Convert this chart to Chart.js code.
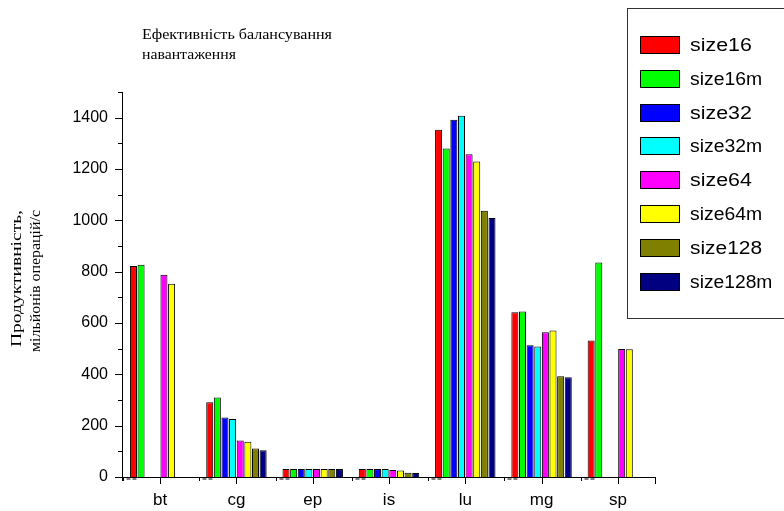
<!DOCTYPE html>
<html>
<head>
<meta charset="utf-8">
<script src="https://cdn.jsdelivr.net/npm/chart.js@4.4.0/dist/chart.umd.min.js"></script>
<style>
  html, body { margin:0; padding:0; background:#fff; }
</style>
</head>
<body>
<canvas id="chart" width="784" height="511"></canvas>
<script>
const categories = ["bt", "cg", "ep", "is", "lu", "mg", "sp"];
const seriesNames = ["size16", "size16m", "size32", "size32m", "size64", "size64m", "size128", "size128m"];
const seriesColors = ["#ff0000", "#00ff00", "#0000ff", "#00ffff", "#ff00ff", "#ffff00", "#808000", "#000080"];

const size16   = [822, 291, 31, 31, 1353, 642, 532];
const size16m  = [827, 310, 31, 31, 1280, 645, 836];
const size32   = [null, 232, 31, 31, 1392, 513, null];
const size32m  = [null, 226, 31, 31, 1407, 508, null];
const size64   = [788, 142, 31, 27, 1257, 564, 499];
const size64m  = [753, 137, 31, 25, 1229, 571, 498];
const size128  = [null, 111, 31, 17, 1037, 393, null];
const size128m = [null, 104, 31, 16, 1009, 389, null];

const yMax = 1500;
const yTitle = ["Продуктивність,", "мільйонів операцій/с"];
const chartTitle = ["Ефективність балансування", "навантаження"];

const seriesValues = [size16, size16m, size32, size32m, size64, size64m, size128, size128m];

// text squeezed/stretched to a target width
function fitText(ctx, text, x, y, width){
  const w = ctx.measureText(text).width;
  ctx.save();
  ctx.translate(x, y);
  ctx.scale(width / w, 1);
  ctx.fillText(text, 0, 0);
  ctx.restore();
}

const frame = {
  id: "frame",
  afterDraw(chart){
    const ctx = chart.ctx;
    const xs = chart.scales.x, ys = chart.scales.y;
    const left = xs.left, right = xs.right, bottom = ys.bottom, top = ys.top;
    ctx.save();
    ctx.strokeStyle = "#000";
    ctx.lineWidth = 1;
    ctx.beginPath();
    ctx.moveTo(left + 0.5, top);
    ctx.lineTo(left + 0.5, bottom + 4);
    ctx.moveTo(left, bottom + 0.5);
    ctx.lineTo(right, bottom + 0.5);
    for (let v = 0; v <= yMax; v += 100) {
      const py = Math.round(ys.getPixelForValue(v)) + 0.5;
      const len = v % 200 === 0 ? 7 : 4;
      ctx.moveTo(left - len, py);
      ctx.lineTo(left, py);
    }
    const cw = (right - left) / categories.length;
    categories.forEach((c, i) => {
      const px = Math.round(xs.getPixelForValue(i)) + 0.5;
      ctx.moveTo(px, bottom);
      ctx.lineTo(px, bottom + 7);
      const b = Math.round(xs.getPixelForValue(i) - cw / 2) + 0.5;
      ctx.moveTo(b + 1, bottom);
      ctx.lineTo(b + 1, bottom + 4);
      ctx.moveTo(b + 4, bottom + 2);
      ctx.lineTo(b + 8, bottom + 2);
      ctx.moveTo(b + 10, bottom + 2);
      ctx.lineTo(b + 14, bottom + 2);
    });
    ctx.moveTo(right - 0.5, bottom);
    ctx.lineTo(right - 0.5, bottom + 7);
    ctx.stroke();

    // title
    ctx.fillStyle = "#000";
    ctx.font = "14px 'Liberation Serif'";
    ctx.textBaseline = "alphabetic";
    ctx.textAlign = "left";
    fitText(ctx, chartTitle[0], 142, 39, 190);
    fitText(ctx, chartTitle[1], 142, 59, 94);

    // y axis title
    ctx.save();
    ctx.rotate(-Math.PI / 2);
    ctx.textBaseline = "middle";
    ctx.font = "15px 'Liberation Serif'";
    fitText(ctx, yTitle[0], -347, 17, 137);
    fitText(ctx, yTitle[1], -352, 36, 142);
    ctx.restore();

    // legend
    ctx.strokeStyle = "#333";
    ctx.strokeRect(627.5, 8.5, 200, 310);
    ctx.font = "18px 'Liberation Sans'";
    ctx.textBaseline = "middle";
    chart.data.datasets.forEach((ds, i) => {
      const yy = 36 + i * 33.8;
      ctx.fillStyle = ds.backgroundColor;
      ctx.fillRect(640, Math.round(yy), 39, 18);
      ctx.strokeStyle = "#000";
      ctx.strokeRect(640.5, Math.round(yy) + 0.5, 39, 17);
      ctx.fillStyle = "#000";
      fitText(ctx, ds.label, 690, Math.round(yy) + 10, ds.label.length * 10.3);
    });
    ctx.restore();
  }
};

new Chart(document.getElementById("chart"), {
  type: "bar",
  data: {
    labels: categories,
    datasets: seriesNames.map((name, i) => ({
      label: name,
      data: seriesValues[i],
      backgroundColor: seriesColors[i],
      borderColor: "#000",
      borderWidth: 1,
      barPercentage: 0.92,
      categoryPercentage: 0.8
    }))
  },
  options: {
    responsive: false,
    devicePixelRatio: 1,
    animation: false,
    layout: { padding: { top: 92, right: 128, left: 0, bottom: 0 } },
    plugins: {
      legend: { display: false },
      tooltip: { enabled: false }
    },
    scales: {
      x: {
        grid: { display: false },
        border: { display: false },
        ticks: { color: "#000", font: { family: "Liberation Sans", size: 17 }, padding: 5 },
        afterFit: s => { s.height = 34; }
      },
      y: {
        min: 0,
        max: yMax,
        grid: { display: false },
        border: { display: false },
        ticks: {
          stepSize: 100,
          color: "#000",
          font: { family: "Liberation Sans", size: 16 },
          padding: 6,
          callback: v => (v % 200 === 0 ? v : "")
        },
        afterFit: s => { s.width = 122; }
      }
    }
  },
  plugins: [frame]
});
</script>
</body>
</html>
